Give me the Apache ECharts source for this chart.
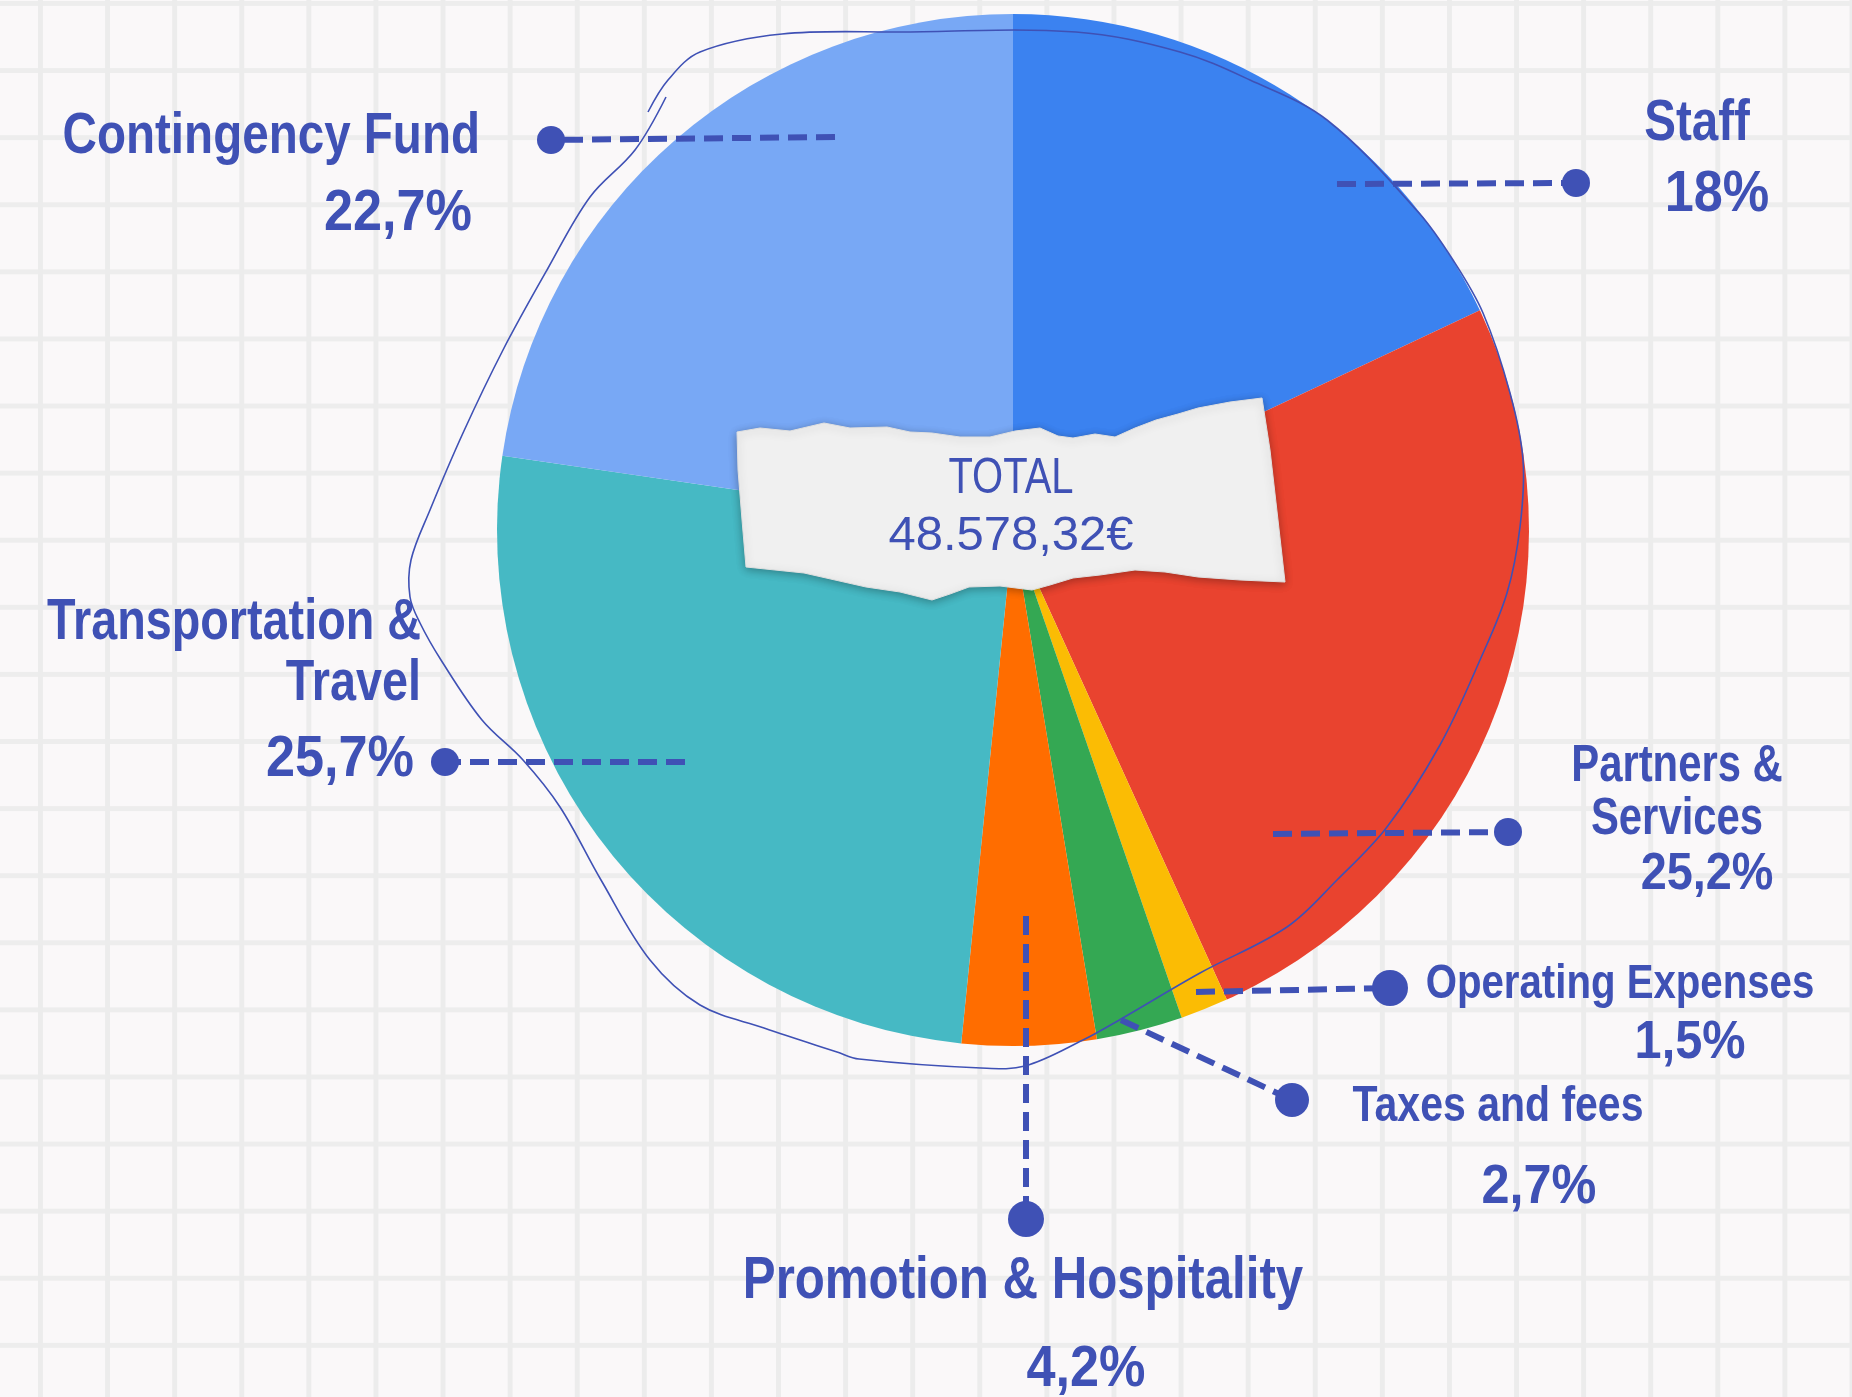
<!DOCTYPE html>
<html>
<head>
    <meta charset="utf-8">
    <script src="https://cdn.jsdelivr.net/npm/echarts@6/dist/echarts.min.js"></script>
    <style>
        html, body { margin: 0; padding: 0; }
        body {
            background-color: #faf8f9;
            background-image: linear-gradient(to right, #ececec 0, #ececec 5px, transparent 5px),
                              linear-gradient(to bottom, #ededed 0, #ededed 5px, transparent 5px);
            background-size: 67.1px 67.1px;
            background-position: 38px 1px;
        }
        #budget { width: 1852px; height: 1397px; }
    </style>
</head>
<body>
    <div id="budget"></div>
    <script type="text/javascript">
        // slices, clockwise from 12 o'clock
        var categories = ['Staff', 'Partners & Services', 'Operating Expenses', 'Taxes and fees',
                          'Promotion & Hospitality', 'Transportation & Travel', 'Contingency Fund'];
        var shares = [18, 25.2, 1.5, 2.7, 4.2, 25.7, 22.7];
        var labelNames = ['Staff', 'Partners &\nServices', 'Operating Expenses', 'Taxes and fees',
                          'Promotion & Hospitality', 'Transportation &\nTravel', 'Contingency Fund'];
        var sliceColors = ['#3b82f0', '#e9432f', '#fbbc04', '#34a853', '#ff6d00', '#46b9c4', '#78a8f5'];
        var totalTitle = 'TOTAL';
        var totalValue = '48.578,32€';

        var ink = '#3f51b5';
        var font = "'Liberation Sans', Arial, sans-serif";
        var narrow = 0.82;    // squeeze the sans to look like a condensed hand font
        var pctNarrow = 0.9;

        // where each label sits: name block (top-anchored) and the share line (centre-anchored)
        var place = [
            {x: 1697, top: 88,   align: 'center', fn: 58, ln: 72, px: 1717, py: 195,  pAlign: 'center', fp: 58, from: [1337, 184], dot: [1576, 183], r: 14},
            {x: 1677, top: 740,  align: 'center', fn: 51, ln: 53, px: 1707, py: 875,  pAlign: 'center', fp: 52, from: [1273, 834], dot: [1508, 832], r: 14},
            {x: 1620, top: 955,  align: 'center', fn: 49, ln: 59, px: 1690, py: 1043, pAlign: 'center', fp: 54, from: [1196, 992], dot: [1390, 988], r: 18},
            {x: 1498, top: 1066, align: 'center', fn: 50, ln: 82, px: 1539, py: 1188, pAlign: 'center', fp: 56, from: [1121, 1020], dot: [1292, 1100], r: 17},
            {x: 1023, top: 1236, align: 'center', fn: 60, ln: 90, px: 1086, py: 1370, pAlign: 'center', fp: 58, from: [1026, 916], dot: [1026, 1219], r: 18},
            {x: 421,  top: 593,  align: 'right',  fn: 57, ln: 61, px: 414,  py: 760,  pAlign: 'right',  fp: 58, from: [685, 762], dot: [445, 762], r: 14},
            {x: 480,  top: 98,   align: 'right',  fn: 58, ln: 78, px: 472,  py: 214,  pAlign: 'right',  fp: 58, from: [835, 137], dot: [551, 140], r: 14}
        ];

        function pctText(v) {
            return String(v).replace('.', ',') + '%';
        }

        var pieData = categories.map(function (name, i) {
            return { name: name, value: shares[i], itemStyle: { color: sliceColors[i] } };
        });

        var graphics = [];
        // hand drawn loop around the pie
        graphics.push({
            type: 'polyline', z: 50, silent: true,
            shape: {
                smooth: 0.35,
                points: [[648, 112], [668, 80], [700, 52], [782, 34], [900, 32], [1076, 32], [1180, 52],
                         [1250, 80], [1327, 120], [1419, 213], [1453, 260], [1483, 313], [1510, 393],
                         [1523, 460], [1520, 527], [1507, 593], [1480, 660], [1440, 745], [1387, 827],
                         [1337, 880], [1287, 927], [1200, 973], [1121, 1019], [1083, 1040], [1025, 1066],
                         [981, 1068], [859, 1059], [837, 1052], [764, 1028], [700, 1005], [650, 960],
                         [601, 880], [560, 807], [523, 760], [482, 720], [441, 660], [420, 623], [410, 597],
                         [411, 560], [430, 510], [463, 433], [503, 350], [547, 270], [590, 197], [635, 150],
                         [666, 97]]
            },
            style: { stroke: ink, lineWidth: 1.6, fill: null }
        });
        // torn paper behind the total
        graphics.push({
            type: 'polygon', z: 60, silent: true,
            shape: {
                points: [[737, 432], [760, 428], [790, 431], [824, 423], [850, 428], [887, 427], [910, 432],
                         [932, 433], [960, 437], [990, 437], [1015, 431], [1040, 428], [1058, 436], [1073, 438],
                         [1095, 434], [1115, 437], [1135, 428], [1156, 420], [1178, 414], [1198, 408],
                         [1230, 402], [1262, 398], [1270, 450], [1278, 520], [1285, 582], [1240, 580],
                         [1198, 577], [1165, 572], [1135, 570], [1100, 575], [1073, 578], [1050, 585],
                         [1032, 590], [1000, 586], [969, 587], [950, 594], [932, 600], [900, 592], [866, 587],
                         [835, 580], [804, 573], [775, 570], [746, 567], [742, 520], [738, 470]]
            },
            style: { fill: '#f0f0f0', stroke: '#e0e0e0', lineWidth: 1,
                     shadowBlur: 8, shadowColor: 'rgba(0,0,0,0.3)', shadowOffsetY: 2 }
        });
        graphics.push({
            type: 'text', z: 70, x: 1011, y: 479, scaleX: 0.8, silent: true,
            style: { text: totalTitle, fontSize: 50, fontFamily: font, fill: ink, align: 'center', verticalAlign: 'middle' }
        });
        graphics.push({
            type: 'text', z: 70, x: 1011, y: 536, silent: true,
            style: { text: totalValue, fontSize: 49, fontFamily: font, fill: ink, align: 'center', verticalAlign: 'middle' }
        });

        place.forEach(function (p, i) {
            // dashed leader line and its end dot
            graphics.push({
                type: 'polyline', z: 80, silent: true,
                shape: { points: [p.from, p.dot] },
                style: { stroke: ink, lineWidth: 6, lineDash: [19, 9], fill: null }
            });
            graphics.push({
                type: 'circle', z: 81, silent: true,
                shape: { cx: p.dot[0], cy: p.dot[1], r: p.r },
                style: { fill: ink }
            });
            // category name
            graphics.push({
                type: 'text', z: 90, x: p.x, y: p.top, scaleX: narrow, silent: true,
                style: {
                    text: labelNames[i], align: p.align, verticalAlign: 'top',
                    fontSize: p.fn, lineHeight: p.ln, fontWeight: 'bold', fontFamily: font, fill: ink
                }
            });
            // share
            graphics.push({
                type: 'text', z: 90, x: p.px, y: p.py, scaleX: pctNarrow, silent: true,
                style: {
                    text: pctText(shares[i]), align: p.pAlign, verticalAlign: 'middle',
                    fontSize: p.fp, fontWeight: 'bold', fontFamily: font, fill: ink
                }
            });
        });

        var myChart = echarts.init(document.getElementById('budget'), null, { renderer: 'canvas' });
        var option = {
            backgroundColor: 'transparent',
            animation: false,
            graphic: graphics,
            series: [{
                type: 'pie',
                center: [1013, 530],
                radius: 516,
                startAngle: 90,
                clockwise: true,
                silent: true,
                itemStyle: { borderWidth: 0 },
                label: { show: false },
                labelLine: { show: false },
                data: pieData
            }]
        };
        myChart.setOption(option);
    </script>
</body>
</html>
